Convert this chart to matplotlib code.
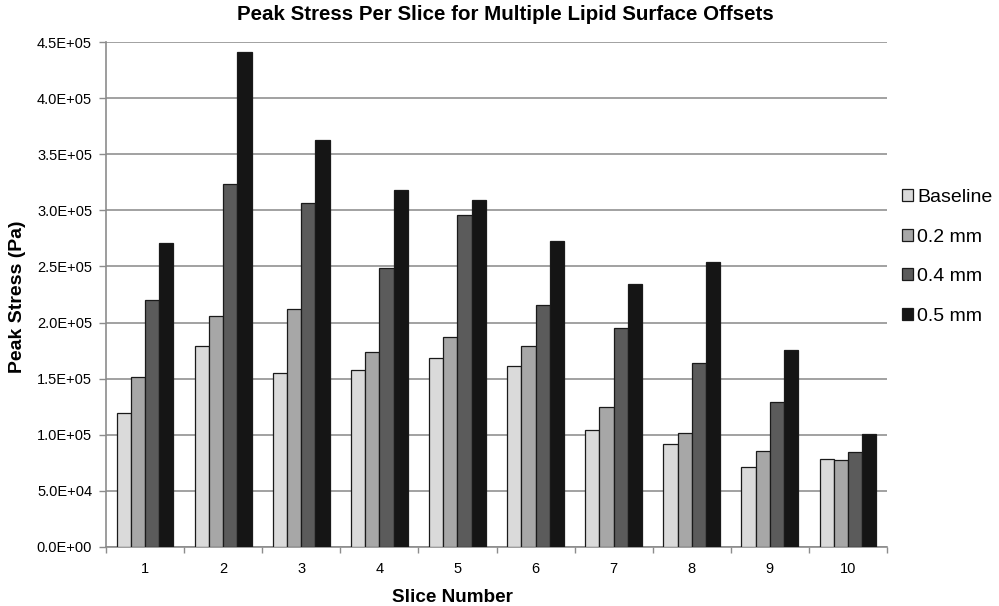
import matplotlib
matplotlib.use("Agg")
import matplotlib.pyplot as plt
import numpy as np
from matplotlib.ticker import FuncFormatter, MultipleLocator, FixedLocator
from matplotlib.patches import Patch

plt.rcParams['font.family'] = ['Liberation Sans', 'DejaVu Sans']

slices = [1, 2, 3, 4, 5, 6, 7, 8, 9, 10]
series_names = ["Baseline", "0.2 mm", "0.4 mm", "0.5 mm"]
baseline = [1.19e5, 1.79e5, 1.55e5, 1.58e5, 1.68e5, 1.61e5, 1.04e5, 0.92e5, 0.714e5, 0.78e5]
off_02 = [1.51e5, 2.06e5, 2.12e5, 1.74e5, 1.875e5, 1.79e5, 1.25e5, 1.01e5, 0.857e5, 0.774e5]
off_04 = [2.20e5, 3.235e5, 3.07e5, 2.49e5, 2.955e5, 2.16e5, 1.95e5, 1.64e5, 1.295e5, 0.845e5]
off_05 = [2.71e5, 4.41e5, 3.63e5, 3.18e5, 3.09e5, 2.73e5, 2.345e5, 2.54e5, 1.756e5, 1.003e5]
series = [baseline, off_02, off_04, off_05]
colors = ["#dadada", "#a7a7a7", "#5b5b5b", "#151515"]

W, H = 999, 606
fig = plt.figure(figsize=(W / 100, H / 100), dpi=100)
ax = fig.add_axes([106 / W, 1 - 546.7 / H, (887 - 106) / W, (546.7 - 42.3) / H])

x = np.arange(len(slices))
bw = 1 / 5.5
for i, (vals, c) in enumerate(zip(series, colors)):
    ax.bar(x + (i - 1.5) * bw, vals, width=bw, color=c, edgecolor="#1a1a1a",
           linewidth=0.9, zorder=3, label=series_names[i])

ax.set_xlim(-0.5, len(slices) - 0.5)
ax.set_ylim(0, 4.5e5)
ax.yaxis.set_major_locator(MultipleLocator(0.5e5))
ax.yaxis.set_major_formatter(FuncFormatter(lambda v, p: f"{v:.1E}"))
ax.set_xticks(x)
ax.set_xticklabels([str(s) for s in slices])
ax.xaxis.set_minor_locator(FixedLocator(np.arange(-0.5, len(slices), 1.0)))
ax.tick_params(axis='x', which='major', length=0, pad=11, labelsize=10.5)
ax.tick_params(axis='x', which='minor', length=4, color="#8c8c8c", width=1)
ax.tick_params(axis='y', length=5, color="#8c8c8c", width=1, labelsize=10.5, pad=5)
ax.grid(axis='y', color="#9a9a9a", linewidth=1.3, zorder=0)
for s in ["top", "right"]:
    ax.spines[s].set_visible(False)
for s in ["left", "bottom"]:
    ax.spines[s].set_color("#8c8c8c")
    ax.spines[s].set_linewidth(1.2)

fig.text(505 / W, 1 - 15 / H, "Peak Stress Per Slice for Multiple Lipid Surface Offsets",
         ha="center", va="center", fontsize=14.8, fontweight="bold")
fig.text(452 / W, 1 - 597 / H, "Slice Number", ha="center", va="center",
         fontsize=13.6, fontweight="bold")
fig.text(17.5 / W, 1 - 297 / H, "Peak Stress (Pa)", ha="center", va="center",
         rotation=90, fontsize=14, fontweight="bold")

handles = [Patch(facecolor=c, edgecolor="#1a1a1a", linewidth=0.9) for c in colors]
leg = fig.legend(handles, series_names, loc="upper left",
                 bbox_to_anchor=(902 / W, 1 - 189 / H), frameon=False,
                 fontsize=14, handlelength=0.55, handleheight=0.55,
                 handletextpad=0.22, labelspacing=1.16, borderaxespad=0, borderpad=0)

fig.savefig("out.png", dpi=100)
